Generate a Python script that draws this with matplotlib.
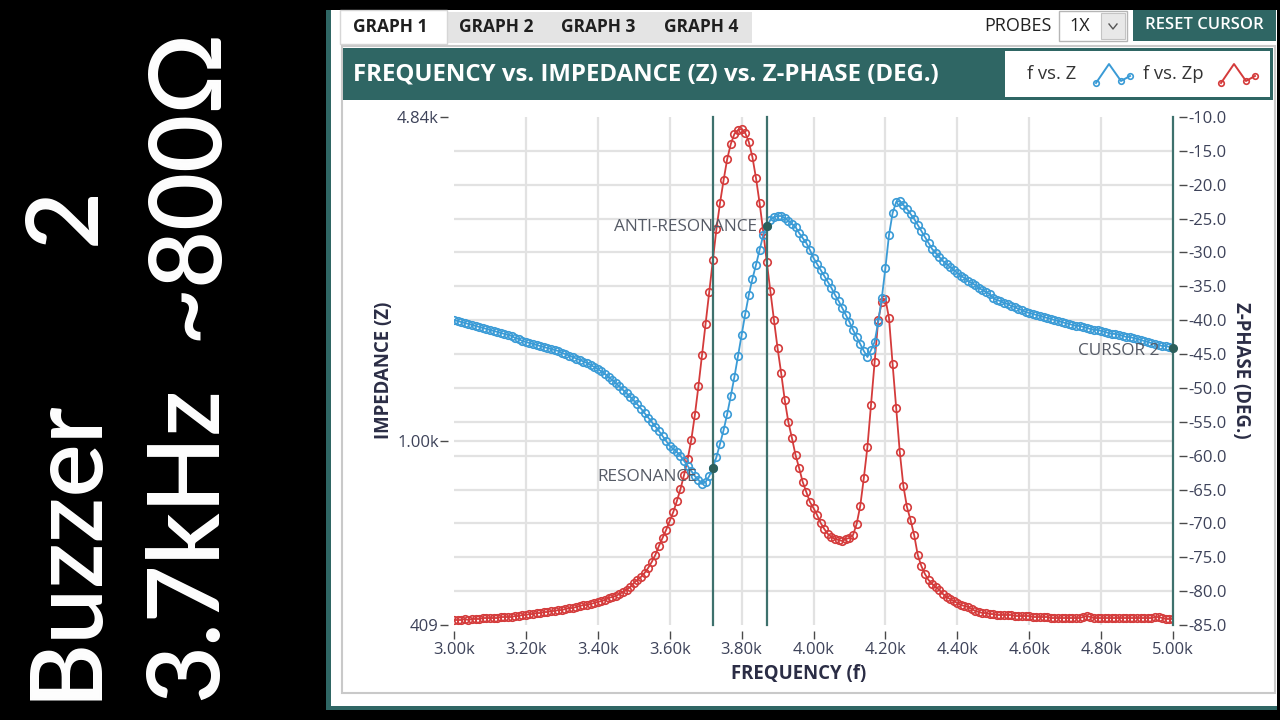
import numpy as np
import matplotlib
matplotlib.use("Agg")
import matplotlib.pyplot as plt
from matplotlib.patches import Rectangle
from matplotlib.lines import Line2D
from matplotlib.ticker import NullLocator
import matplotlib.transforms as mtransforms

plt.rcParams['font.family'] = ['Open Sans', 'DejaVu Sans']

# ---------------- data ----------------
freq = np.arange(3000, 5001, 10)  # frequency sweep, Hz

impedance = [
    1803, 1794, 1786, 1777, 1769, 1760, 1752, 1743, 1735, 1726,
    1718, 1710, 1702, 1693, 1685, 1677, 1669, 1652, 1644, 1628,
    1620, 1612, 1604, 1597, 1589, 1581, 1573, 1566, 1558, 1551,
    1536, 1528, 1517, 1506, 1495, 1484, 1473, 1463, 1449, 1435,
    1421, 1404, 1387, 1367, 1347, 1327, 1305, 1283, 1262, 1240,
    1219, 1196, 1172, 1147, 1122, 1098, 1074, 1051, 1026, 1001,
    977, 963, 949, 931, 909, 887, 865, 844, 828, 812,
    820, 844, 878, 926, 987, 1056, 1142, 1247, 1367, 1513,
    1677, 1855, 2036, 2201, 2356, 2535, 2720, 2849, 2933, 2976,
    2990, 2990, 2962, 2919, 2876, 2835, 2752, 2687, 2622, 2535,
    2438, 2368, 2300, 2233, 2169, 2107, 2036, 1977, 1912, 1848,
    1786, 1718, 1660, 1604, 1551, 1506, 1558, 1620, 1786, 2006,
    2322, 2726, 3032, 3202, 3217, 3155, 3094, 3019, 2948, 2863,
    2780, 2700, 2622, 2547, 2498, 2450, 2402, 2368, 2334, 2300,
    2267, 2233, 2212, 2179, 2158, 2138, 2107, 2086, 2066, 2046,
    2006, 1987, 1977, 1958, 1949, 1930, 1921, 1902, 1893, 1875,
    1866, 1857, 1848, 1839, 1830, 1821, 1812, 1803, 1794, 1786,
    1777, 1769, 1760, 1752, 1752, 1743, 1735, 1726, 1718, 1718,
    1710, 1702, 1693, 1685, 1685, 1677, 1669, 1660, 1660, 1652,
    1644, 1636, 1628, 1620, 1612, 1604, 1597, 1589, 1589, 1581,
    1573,
]

phase = [
    -84.26, -84.26, -84.26, -84.11, -84.26, -84.11, -84.11, -84.11, -83.97, -83.97,
    -83.97, -83.97, -83.97, -83.82, -83.82, -83.82, -83.82, -83.67, -83.67, -83.52,
    -83.52, -83.38, -83.38, -83.23, -83.23, -83.08, -83.08, -82.93, -82.93, -82.79,
    -82.79, -82.64, -82.49, -82.49, -82.34, -82.19, -82.05, -82.05, -81.90, -81.75,
    -81.60, -81.46, -81.31, -81.01, -80.87, -80.72, -80.42, -80.13, -79.83, -79.39,
    -78.80, -78.36, -77.91, -77.32, -76.58, -75.70, -74.66, -73.34, -72.15, -70.97,
    -69.64, -68.32, -66.69, -64.92, -62.85, -60.49, -57.69, -54.00, -49.71, -45.13,
    -40.56, -35.83, -31.11, -26.53, -22.69, -19.30, -16.19, -13.98, -12.50, -11.91,
    -11.77, -12.36, -13.68, -15.90, -19.00, -22.69, -26.83, -31.40, -35.68, -39.97,
    -44.10, -47.79, -51.78, -55.03, -57.39, -59.90, -61.82, -63.89, -65.36, -66.84,
    -67.73, -68.76, -69.94, -70.83, -71.56, -72.01, -72.30, -72.45, -72.60, -72.30,
    -72.15, -71.71, -70.09, -67.43, -63.30, -58.72, -52.52, -46.17, -39.97, -37.31,
    -36.87, -39.67, -46.46, -52.96, -59.46, -64.48, -67.58, -69.50, -71.71, -74.66,
    -76.29, -77.47, -78.36, -78.95, -79.39, -79.83, -80.42, -80.87, -81.16, -81.46,
    -81.75, -82.05, -82.19, -82.34, -82.64, -82.93, -83.08, -83.23, -83.23, -83.38,
    -83.38, -83.52, -83.52, -83.52, -83.52, -83.52, -83.67, -83.67, -83.67, -83.67,
    -83.67, -83.82, -83.82, -83.82, -83.82, -83.82, -83.97, -83.97, -83.97, -83.97,
    -83.97, -83.97, -83.97, -83.97, -83.97, -83.82, -83.67, -83.82, -83.97, -83.97,
    -83.97, -83.97, -83.97, -83.97, -83.97, -83.97, -83.97, -83.97, -83.97, -83.97,
    -83.97, -83.97, -83.97, -83.97, -83.97, -83.82, -83.82, -83.97, -84.11, -84.11,
    -84.11,
]

x_ticks = [3000, 3200, 3400, 3600, 3800, 4000, 4200, 4400, 4600, 4800, 5000]
x_labels = ['3.00k', '3.20k', '3.40k', '3.60k', '3.80k', '4.00k',
            '4.20k', '4.40k', '4.60k', '4.80k', '5.00k']
z_ticks = [409, 1000, 4840]
z_labels = ['409', '1.00k', '4.84k']
phase_ticks = [-85, -80, -75, -70, -65, -60, -55, -50, -45, -40,
               -35, -30, -25, -20, -15, -10]
phase_labels = ['-85.0', '-80.0', '-75.0', '-70.0', '-65.0', '-60.0', '-55.0', '-50.0',
                '-45.0', '-40.0', '-35.0', '-30.0', '-25.0', '-20.0', '-15.0', '-10.0']
cursor_freqs = [3720, 3870, 5000]
cursor_names = ['RESONANCE', 'ANTI-RESONANCE', 'CURSOR 2']
tab_names = ['GRAPH 1', 'GRAPH 2', 'GRAPH 3', 'GRAPH 4']
chart_title = 'FREQUENCY vs. IMPEDANCE (Z) vs. Z-PHASE (DEG.)'
legend_names = ['f vs. Z', 'f vs. Zp']
x_title = 'FREQUENCY (f)'
z_title = 'IMPEDANCE (Z)'
phase_title = 'Z-PHASE (DEG.)'
note_words = [['Buzzer', '2'], ['3.7kHz', '~800Ω']]

# ---------------- style ----------------
W, H = 1280, 720
TEAL = '#2f6664'
CURSOR = '#3e716d'
BLUE = '#3a9bd6'
RED = '#d43b3b'
GRID = '#e2e2e2'
TICKTXT = '#3d4259'
AXTXT = '#2b2d45'

fig = plt.figure(figsize=(W / 100, H / 100), dpi=100, facecolor='black')


def fx(px):
    return px / W


def fy(py):
    return 1 - py / H


def rect(x0, y0, x1, y1, z=-5, **kw):
    r = Rectangle((fx(x0), fy(y1)), (x1 - x0) / W, (y1 - y0) / H,
                  transform=fig.transFigure, zorder=z, **kw)
    fig.add_artist(r)
    return r


# window frame
rect(326, 10, 1277, 710, z=-10, facecolor=TEAL, edgecolor='none')
rect(331, 10, 1277, 706, z=-9, facecolor='white', edgecolor='none')

# tabs
rect(447, 12, 752, 43, z=-8, facecolor='#e4e4e4', edgecolor='none')
rect(340, 10, 447, 44, z=-7, facecolor='white', edgecolor='#d6d6d6', linewidth=1)
tab_centers = [390, 496, 598, 701]
for name, cx in zip(tab_names, tab_centers):
    fig.text(fx(cx), fy(27), name, ha='center', va='center', fontsize=12.5,
             fontweight='bold', color='#1f1f1f')

# probes / reset
fig.text(fx(1018), fy(26), 'PROBES', ha='center', va='center', fontsize=13, color='#222222')
rect(1059, 11, 1127, 41, z=-7, facecolor='white', edgecolor='#b5b5b5', linewidth=1)
rect(1101, 13, 1125, 39, z=-6, facecolor='#e8e8e8', edgecolor='#c4c4c4', linewidth=0.8)
fig.text(fx(1080), fy(26), '1X', ha='center', va='center', fontsize=13, color='#222222')
fig.add_artist(Line2D([fx(1109), fx(1113), fx(1117)], [fy(24), fy(29), fy(24)],
                      transform=fig.transFigure, color='#555555', lw=1))
rect(1133, 10, 1276, 41, z=-6, facecolor=TEAL, edgecolor='none')
fig.text(fx(1204), fy(25), 'RESET CURSOR', ha='center', va='center', fontsize=12,
         color='white', fontweight='semibold')

# chart panel
rect(342, 46, 1275, 693, z=-8, facecolor='white', edgecolor='#c9c9c9', linewidth=1.5)
rect(343, 48, 1273, 100, z=-7, facecolor=TEAL, edgecolor='none')
rect(1005, 51, 1270, 97, z=-6, facecolor='white', edgecolor='none')
fig.text(fx(353), fy(74), chart_title, ha='left', va='center', fontsize=17.3,
         fontweight='bold', color='white')

# legend entries
fig.text(fx(1027), fy(74), legend_names[0], ha='left', va='center', fontsize=13.3, color='#333333')
fig.text(fx(1143), fy(74), legend_names[1], ha='left', va='center', fontsize=13.3, color='#333333')
for x0, col in [(1096, BLUE), (1221, RED)]:
    xs = [x0, x0 + 13, x0 + 25, x0 + 34]
    ys = [83, 64, 81, 76]
    fig.add_artist(Line2D([fx(v) for v in xs], [fy(v) for v in ys],
                          transform=fig.transFigure, color=col, lw=1.4))
    fig.add_artist(Line2D([fx(xs[0]), fx(xs[2]), fx(xs[3])],
                          [fy(ys[0]), fy(ys[2]), fy(ys[3])],
                          transform=fig.transFigure, color=col, lw=0, marker='o',
                          ms=4, mfc='none', mew=1.2))

# handwritten note on the left (two columns, read bottom-to-top)
note_cols = [66, 188]
note_starts = [[700, 245], [700, 340]]
for cx, words, starts in zip(note_cols, note_words, note_starts):
    for w, y0 in zip(words, starts):
        fig.text(fx(cx), fy(y0), w, rotation=90, ha='center', va='bottom',
                 fontsize=72, color='white', fontweight='semibold',
                 family=['Lato', 'DejaVu Sans'])

# ---------------- axes ----------------
L, R, T, B = 454, 1173, 117, 625
axp = fig.add_axes([fx(L), fy(B), (R - L) / W, (B - T) / H])
ax = axp.twinx()
ax.set_zorder(axp.get_zorder() + 1)
ax.patch.set_visible(False)
axp.patch.set_facecolor('white')

axp.set_xlim(3000, 5000)
axp.set_ylim(-85, -10)
ax.set_yscale('log')
ax.set_ylim(409, 4840)

# gridlines
for xt in x_ticks[1:-1]:
    axp.axvline(xt, color=GRID, lw=1.6, zorder=0)
for pt in phase_ticks[1:-1]:
    axp.axhline(pt, color=GRID, lw=1.6, zorder=0)
blend = mtransforms.blended_transform_factory(axp.transAxes, ax.transData)
axp.plot([0, 1], [1000, 1000], transform=blend, color=GRID, lw=1.6, zorder=0)

# series
axp.plot(freq, phase, color=RED, lw=1.3, marker='o', ms=5.4, mfc='none', mew=1.2, zorder=2)
ax.plot(freq, impedance, color=BLUE, lw=1.3, marker='o', ms=5.4, mfc='none', mew=1.2, zorder=2)

# cursors
offsets = [(-16, -9), (-10, -1), (-14, -3)]
freq_list = list(freq)
for cf, name, off in zip(cursor_freqs, cursor_names, offsets):
    zval = impedance[freq_list.index(cf)]
    ax.axvline(cf, color=CURSOR, lw=1.6, zorder=3, clip_on=False)
    ax.plot([cf], [zval], 'o', color='#2c5f5b', ms=5.5, zorder=4, clip_on=False)
    ax.annotate(name, xy=(cf, zval), xytext=off, textcoords='offset pixels',
                ha='right', va='center', fontsize=12.4, color='#565b66', zorder=5)

# ticks / spines
for a in (ax, axp):
    for s in a.spines.values():
        s.set_visible(False)
axp.spines['bottom'].set_position(('outward', 4))
axp.spines['right'].set_position(('outward', 4))
ax.spines['left'].set_position(('outward', 4))
ax.spines['right'].set_position(('outward', 4))

axp.set_xticks(x_ticks, x_labels)
axp.yaxis.tick_right()
axp.set_yticks(phase_ticks, phase_labels)
axp.tick_params(axis='x', length=6, width=1, color='#4a4a4a', labelsize=12,
                labelcolor=TICKTXT, pad=2)
axp.tick_params(axis='y', left=False, right=True, labelleft=False, labelright=True,
                length=6, width=1, color='#4a4a4a', labelsize=12, labelcolor=TICKTXT, pad=1)

ax.yaxis.tick_left()
ax.set_yticks(z_ticks, z_labels)
ax.yaxis.set_minor_locator(NullLocator())
ax.tick_params(axis='y', which='both', left=True, right=False, labelleft=True,
               labelright=False, length=6, width=1, color='#4a4a4a', labelsize=12,
               labelcolor=TICKTXT, pad=1)
ax.tick_params(axis='y', which='minor', left=False)
ax.tick_params(axis='x', bottom=False, labelbottom=False)

# axis titles
fig.text(fx(799), fy(674), x_title, ha='center', va='center', fontsize=13.4,
         fontweight='bold', color=AXTXT)
fig.text(fx(384), fy(370), z_title, rotation=90, ha='center', va='center', fontsize=13.4,
         fontweight='bold', color=AXTXT)
fig.text(fx(1241), fy(370), phase_title, rotation=270, ha='center', va='center', fontsize=13.4,
         fontweight='bold', color=AXTXT)

fig.savefig('out.png', dpi=100, facecolor='black')
